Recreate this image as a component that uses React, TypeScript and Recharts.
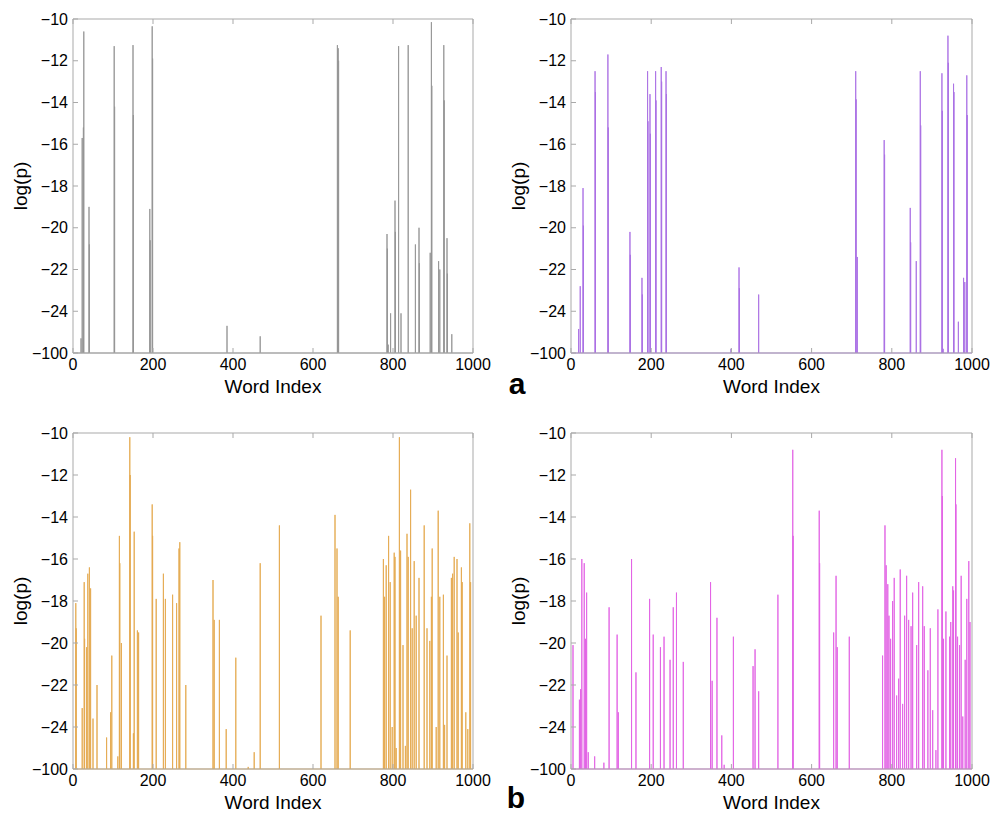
import React from 'react';
import { LineChart, Line, XAxis, YAxis } from 'recharts';

// -100 on the axis is a floor: everything at or below it sits one step under -24
const FLOOR = -26;
const yTicks = [-26, -24, -22, -20, -18, -16, -14, -12, -10];
const xTicks = [0, 200, 400, 600, 800, 1000];

// panel a, left (grey)
const greyIdx = [20, 23, 26, 27, 40, 41, 103, 104, 150, 151,
  192, 193, 198, 199, 385, 468, 661, 663, 664, 785,
  786, 788, 794, 805, 806, 814, 820, 838, 856, 865,
  866, 893, 896, 897, 914, 917, 927, 928, 935, 936,
  947];
const greyVal = [-25.3, -15.7, -15.2, -10.6, -19.0, -20.8, -11.3, -14.2, -11.25, -14.6,
  -19.1, -20.6, -10.35, -11.9, -24.7, -25.2, -11.25, -11.4, -12.0, -20.3,
  -21.0, -25.6, -24.1, -18.7, -20.2, -11.3, -24.1, -11.25, -20.8, -20.0,
  -21.7, -21.2, -10.15, -13.2, -21.6, -22.0, -11.25, -13.9, -20.5, -22.2,
  -25.1];

// panel a, right (purple)
const purpleIdx = [19, 23, 30, 31, 60, 61, 92, 93, 147, 148,
  177, 178, 191, 192, 197, 198, 211, 212, 225, 226,
  237, 238, 399, 419, 420, 468, 710, 711, 714, 781,
  782, 846, 847, 861, 871, 872, 925, 926, 928, 940,
  941, 954, 955, 966, 979, 982, 987, 988];
const purpleVal = [-24.85, -22.8, -18.1, -19.9, -12.5, -13.5, -11.7, -15.2, -20.2, -21.3,
  -22.4, -23.2, -12.5, -14.9, -13.6, -15.5, -12.5, -13.9, -12.3, -13.0,
  -12.5, -13.6, -25.8, -21.9, -22.9, -23.2, -12.5, -13.85, -21.4, -15.8,
  -16.5, -19.05, -20.7, -21.6, -12.5, -15.1, -12.6, -14.4, -25.8, -10.8,
  -12.1, -13.1, -13.5, -24.5, -22.4, -22.6, -12.7, -14.6];

// panel b, left (orange)
const orangeIdx = [7, 8, 23, 28, 29, 34, 37, 41, 44, 50,
  60, 84, 94, 97, 112, 116, 117, 121, 142, 143,
  151, 153, 161, 164, 198, 199, 208, 226, 231, 249,
  259, 265, 267, 282, 350, 353, 366, 383, 407, 438,
  453, 468, 516, 620, 655, 660, 663, 693, 776, 779,
  783, 789, 793, 798, 803, 805, 808, 816, 819, 825,
  831, 835, 838, 844, 848, 853, 858, 865, 878, 885,
  892, 896, 898, 908, 913, 917, 926, 929, 935, 946,
  949, 953, 960, 963, 971, 973, 982, 987, 992, 994];
const orangeVal = [-18.1, -19.3, -23.1, -17.1, -19.8, -20.2, -16.7, -16.4, -17.4, -23.6,
  -22.0, -24.5, -23.3, -20.6, -25.4, -14.9, -16.2, -20.0, -10.2, -12.0,
  -24.3, -14.7, -19.4, -19.5, -13.4, -14.9, -17.9, -16.7, -17.9, -17.7,
  -18.1, -15.5, -15.2, -22.0, -17.0, -18.9, -18.9, -24.1, -20.7, -25.9,
  -25.2, -16.2, -14.4, -18.7, -13.9, -15.5, -17.8, -19.4, -16.0, -17.8,
  -16.3, -14.9, -17.1, -24.0, -15.7, -15.9, -25.0, -10.2, -15.6, -20.1,
  -24.9, -14.8, -15.9, -12.7, -19.3, -16.1, -18.7, -16.9, -14.4, -19.3,
  -19.9, -17.8, -15.5, -24.0, -13.7, -17.8, -17.7, -23.9, -20.6, -16.9,
  -16.7, -15.9, -16.0, -19.5, -16.4, -17.1, -23.3, -24.1, -14.3, -17.1];

// panel b, right (magenta)
const magentaIdx = [5, 21, 24, 27, 33, 36, 39, 43, 59, 82,
  95, 115, 118, 151, 162, 196, 205, 223, 232, 247,
  255, 263, 280, 348, 352, 364, 376, 382, 405, 454,
  459, 468, 516, 553, 554, 619, 620, 655, 661, 664,
  694, 777, 783, 786, 790, 793, 797, 802, 806, 812,
  817, 821, 827, 832, 837, 842, 848, 852, 862, 867,
  877, 881, 890, 896, 902, 910, 915, 925, 926, 929,
  935, 944, 947, 952, 954, 959, 960, 964, 969, 973,
  977, 983, 987, 992, 995];
const magentaVal = [-20.1, -22.7, -22.2, -16.0, -16.2, -19.8, -17.6, -25.2, -25.4, -25.7,
  -18.3, -19.6, -23.3, -16.0, -21.4, -17.9, -19.6, -20.2, -19.7, -20.8,
  -18.3, -17.6, -20.9, -17.1, -21.8, -18.8, -24.4, -25.8, -19.7, -21.1,
  -20.3, -22.3, -17.7, -10.8, -14.9, -13.7, -16.2, -19.5, -16.8, -20.2,
  -19.7, -20.6, -14.4, -16.3, -17.2, -18.7, -19.8, -18.0, -16.9, -22.5,
  -21.7, -16.5, -22.9, -18.7, -16.8, -18.9, -19.2, -17.6, -20.1, -17.1,
  -17.3, -19.2, -21.3, -19.3, -23.2, -25.1, -18.4, -10.8, -13.0, -19.8,
  -18.5, -19.7, -19.0, -17.3, -17.5, -11.2, -13.4, -19.7, -20.1, -16.8,
  -23.5, -20.8, -17.9, -16.1, -19.0];

const FONT = '"Liberation Sans", Arial, Helvetica, sans-serif';
const BOX = '#a9a9a9';

const fmtY = (v: number) => (v === FLOOR ? '\u2212100' : '\u2212' + Math.abs(v));

// matlab-style plot: baseline at the floor with a spike up to each value
function buildStems(idx: number[], vals: number[]) {
  const pts: { x: number; y: number }[] = [{ x: 0, y: FLOOR }];
  idx
    .map((x, i) => ({ x, v: vals[i] }))
    .sort((a, b) => a.x - b.x)
    .forEach(s => {
      pts.push({ x: s.x, y: FLOOR }, { x: s.x, y: Math.max(s.v, FLOOR) }, { x: s.x, y: FLOOR });
    });
  pts.push({ x: 1000, y: FLOOR });
  return pts;
}

interface PanelProps {
  left: number;
  top: number;
  width: number;
  height: number;
  marginRight: number;
  xAxisHeight: number;
  idx: number[];
  vals: number[];
  color: string;
}

function Panel({ left, top, width, height, marginRight, xAxisHeight, idx, vals, color }: PanelProps) {
  const data = buildStems(idx, vals);
  const tickStyle = { fontSize: 16, fill: '#000' };
  return (
    <div style={{ position: 'absolute', left, top }}>
      <LineChart width={width} height={height} data={data} margin={{ top: 18, right: marginRight, bottom: 0, left: 0 }}>
        <XAxis
          dataKey="x"
          type="number"
          domain={[0, 1000]}
          ticks={xTicks}
          interval={0}
          height={xAxisHeight}
          tickSize={-5}
          tickMargin={11}
          stroke={BOX}
          tick={tickStyle}
          label={{ value: 'Word Index', position: 'insideBottom', offset: xAxisHeight - 40, style: { fontSize: 19, fill: '#000' } }}
        />
        <XAxis xAxisId="t" orientation="top" dataKey="x" type="number" domain={[0, 1000]} ticks={xTicks} interval={0}
          height={1} tickSize={-5} stroke={BOX} tickFormatter={() => ''} />
        <YAxis
          type="number"
          domain={[FLOOR, -10]}
          ticks={yTicks}
          interval={0}
          width={73}
          tickSize={-5}
          tickMargin={10}
          stroke={BOX}
          tick={tickStyle}
          tickFormatter={fmtY}
          label={{ value: 'log(p)', angle: -90, position: 'insideLeft', offset: 20, style: { textAnchor: 'middle', fontSize: 19, fill: '#000' } }}
        />
        <YAxis yAxisId="r" orientation="right" type="number" domain={[FLOOR, -10]} ticks={yTicks} interval={0}
          width={1} tickSize={-5} stroke={BOX} tickFormatter={() => ''} />
        <Line type="linear" dataKey="y" stroke={color} strokeWidth={0.9} dot={false} isAnimationActive={false} />
      </LineChart>
    </div>
  );
}

export default function App() {
  return (
    <div style={{ position: 'absolute', left: 0, top: 0, width: 1006, height: 815, overflow: 'hidden', background: '#fff', fontFamily: FONT }}>
      <Panel left={0} top={0} width={498} height={410} marginRight={24} xAxisHeight={57} idx={greyIdx} vals={greyVal} color="#959595" />
      <Panel left={498} top={0} width={508} height={410} marginRight={33} xAxisHeight={57} idx={purpleIdx} vals={purpleVal} color="#aa70e4" />
      <Panel left={0} top={414} width={498} height={401} marginRight={24} xAxisHeight={46} idx={orangeIdx} vals={orangeVal} color="#e4aa50" />
      <Panel left={498} top={414} width={508} height={401} marginRight={33} xAxisHeight={46} idx={magentaIdx} vals={magentaVal} color="#e262e4" />
      <svg width={1006} height={815} style={{ position: 'absolute', left: 0, top: 0, pointerEvents: 'none' }}>
        <text x={517} y={394} textAnchor="middle" fontSize={30} fontWeight="bold" fill="#000">a</text>
        <text x={516} y={808} textAnchor="middle" fontSize={30} fontWeight="bold" fill="#000">b</text>
      </svg>
    </div>
  );
}
